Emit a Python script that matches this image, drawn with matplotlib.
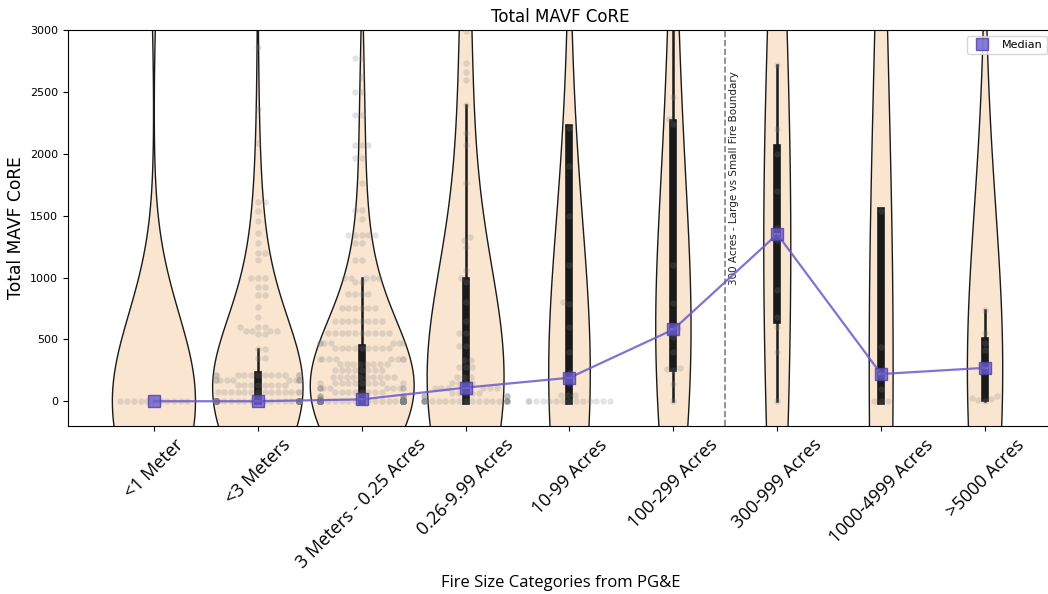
import warnings
warnings.filterwarnings("ignore")
import numpy as np
import pandas as pd
import matplotlib
matplotlib.use("Agg")
import matplotlib.pyplot as plt
import seaborn as sns

categories = ["<1 Meter", "<3 Meters", "3 Meters - 0.25 Acres", "0.26-9.99 Acres",
              "10-99 Acres", "100-299 Acres", "300-999 Acres", "1000-4999 Acres",
              ">5000 Acres"]

lt1m_values = [4000, 0]
lt1m_counts = [1, 11]

lt3m_values = [2860, 2360, 2090, 1610, 1540, 1460, 1360, 1280, 1200, 1140, 1000, 920,
               860, 760, 680, 600, 570, 540, 420, 350, 210, 170, 130, 75, 0]
lt3m_counts = [1, 1, 1, 2, 1, 1, 1, 1, 2, 1, 3, 2, 2, 1, 1, 3, 4, 2, 2, 2, 12, 10, 8, 14, 83]

m3_values = [2770, 2620, 2500, 2310, 2070, 1965, 1760, 1545, 1475, 1340, 1280, 1140,
             1000, 960, 870, 750, 650, 550, 470, 430, 340, 300, 250, 200, 150, 110,
             75, 40, 15, 0]
m3_counts = [2, 1, 2, 2, 3, 2, 1, 2, 1, 5, 2, 2, 5, 2, 4, 6, 8, 10, 7, 9, 8, 8, 8, 10,
             10, 10, 8, 6, 10, 135]

a026_values = [7500, 6000, 5000, 4400, 3900, 3500, 3200, 2990, 2730, 2660, 2600, 2390,
               2165, 2070, 1760, 1325, 1300, 1250, 1060, 1000, 960, 800, 650, 550, 450,
               330, 280, 200, 150, 110, 70, 40, 0]
a026_counts = [1, 1, 1, 1, 1, 1, 1, 1, 1, 1, 1, 1, 1, 1, 1, 1, 1, 1, 1, 1, 1, 1, 1, 2, 2,
               2, 3, 3, 4, 6, 5, 6, 24]

a10_values = [32000, 25000, 19000, 15000, 12000, 10000, 8500, 7000, 6000, 2210, 1900,
              1500, 1100, 800, 785, 600, 400, 230, 190, 145, 50, 0]
a10_counts = [1, 1, 1, 1, 1, 1, 1, 1, 1, 1, 1, 1, 1, 1, 1, 1, 1, 1, 1, 1, 3, 14]

a100_values = [0, 140, 250, 260, 270, 400, 520, 570, 590, 790, 1100, 2240, 2280, 2460,
               4500, 9000]
a300_values = [0, 400, 600, 680, 900, 1300, 1400, 1700, 2000, 2200, 2720, 9000]
a1000_values = [0, 0, 0, 100, 220, 440, 1540, 9000, 20000]
a5000_values = [0, 10, 20, 30, 40, 250, 290, 412, 470, 550, 740, 15000]

data_list = [
    np.repeat(lt1m_values, lt1m_counts),
    np.repeat(lt3m_values, lt3m_counts),
    np.repeat(m3_values, m3_counts),
    np.repeat(a026_values, a026_counts),
    np.repeat(a10_values, a10_counts),
    np.array(a100_values),
    np.array(a300_values),
    np.array(a1000_values),
    np.array(a5000_values),
]

# style: violin widths and kde bandwidth factors per category
violin_widths = [0.80, 0.87, 1.0, 0.74, 0.40, 0.34, 0.26, 0.23, 0.34]
bw_factors = [0.61, 1.15, 0.90, 0.60, 0.15, 0.48, 0.85, 0.34, 0.30]

violin_color = "#f9e5d0"
edge_color = "#1a1a1a"
median_color = "#6a5acd"

fig = plt.figure(figsize=(10.48, 5.94), dpi=100)
ax = fig.add_axes([68 / 1048, 1 - 426 / 594, (1053 - 68) / 1048, 396 / 594])

for cat, vals, w, bw in zip(categories, data_list, violin_widths, bw_factors):
    sns.violinplot(x=[cat] * len(vals), y=vals, order=categories, ax=ax, width=w,
                   bw_method=bw, cut=2, gridsize=1500, inner="box", color=violin_color,
                   linecolor=edge_color, linewidth=1.0, saturation=1,
                   density_norm="width", inner_kws=dict(box_width=5.5, whis_width=1.8))

df = pd.DataFrame({
    "cat": np.concatenate([[c] * len(v) for c, v in zip(categories, data_list)]),
    "val": np.concatenate(data_list),
})
sns.swarmplot(data=df, x="cat", y="val", order=categories, color="gray", alpha=0.22,
              size=4.6, ax=ax, zorder=3)

medians = [np.median(v) for v in data_list]
xpos = np.arange(len(categories))
ax.plot(xpos, medians, color=median_color, lw=1.6, alpha=0.85, zorder=4)
ax.plot(xpos, medians, linestyle="none", marker="s", markersize=9, color=median_color,
        alpha=0.8, markeredgecolor="#4b3fa8", label="Median", zorder=5)

ax.axvline(5.5, color="gray", linestyle="--", lw=1.2, zorder=2)
ax.text(5.585, 1800, "300 Acres - Large vs Small Fire Boundary", rotation=90,
        ha="center", va="center", fontsize=7.5, color="#222222")

ax.set_xlim(-0.827, 8.654)
ax.set_ylim(-200, 3000)
ax.set_yticks([0, 500, 1000, 1500, 2000, 2500, 3000])
ax.tick_params(axis="y", labelsize=8)
ax.set_xticks(xpos)
ax.set_xticklabels(categories, rotation=45, fontsize=13, family="Open Sans")
ax.set_xlabel("Fire Size Categories from PG&E", fontsize=12, family="Open Sans",
              labelpad=2)
ax.set_ylabel("Total MAVF CoRE", fontsize=12.3)
ax.set_title("Total MAVF CoRE", fontsize=12)
ax.legend(loc="upper right", fontsize=8)

fig.savefig("out.png", dpi=100)
